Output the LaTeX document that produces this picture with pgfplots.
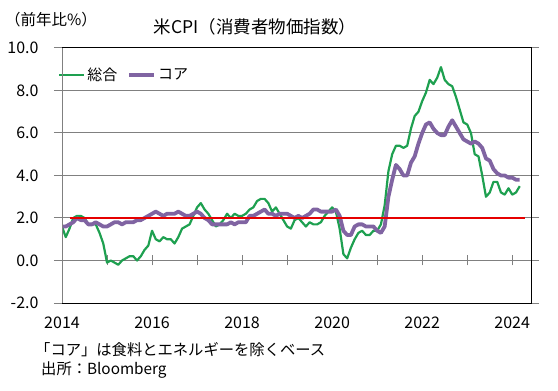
\documentclass[border=0pt]{standalone}
\usepackage{fontspec}
\setmainfont{Noto Sans CJK JP}
\usepackage{pgfplots}
\usepackage{pgfplotstable}
\pgfplotsset{compat=1.18}
\definecolor{cpigreen}{RGB}{30,160,80}
\definecolor{cpipurple}{RGB}{128,100,162}
\definecolor{cpired}{RGB}{230,0,0}
\definecolor{gridgray}{RGB}{128,128,128}

\pgfplotstableread{
i total core
0 1.6 1.6
1 1.1 1.6
2 1.5 1.7
3 2.0 1.8
4 2.1 2.0
5 2.1 1.9
6 2.0 1.9
7 1.7 1.7
8 1.7 1.7
9 1.7 1.8
10 1.3 1.7
11 0.8 1.6
12 -0.1 1.6
13 0.0 1.7
14 -0.1 1.8
15 -0.2 1.8
16 0.0 1.7
17 0.1 1.8
18 0.2 1.8
19 0.2 1.8
20 0.0 1.9
21 0.2 1.9
22 0.5 2.0
23 0.7 2.1
24 1.4 2.2
25 1.0 2.3
26 0.9 2.2
27 1.1 2.1
28 1.0 2.2
29 1.0 2.2
30 0.8 2.2
31 1.1 2.3
32 1.5 2.2
33 1.6 2.1
34 1.7 2.1
35 2.1 2.2
36 2.5 2.3
37 2.7 2.2
38 2.4 2.0
39 2.2 1.9
40 1.9 1.7
41 1.6 1.7
42 1.7 1.7
43 1.9 1.7
44 2.2 1.7
45 2.0 1.8
46 2.2 1.7
47 2.1 1.8
48 2.1 1.8
49 2.2 1.8
50 2.4 2.1
51 2.5 2.1
52 2.8 2.2
53 2.9 2.3
54 2.9 2.4
55 2.7 2.2
56 2.3 2.2
57 2.5 2.1
58 2.2 2.2
59 1.9 2.2
60 1.6 2.2
61 1.5 2.1
62 1.9 2.0
63 2.0 2.1
64 1.8 2.0
65 1.6 2.1
66 1.8 2.2
67 1.7 2.4
68 1.7 2.4
69 1.8 2.3
70 2.1 2.3
71 2.3 2.3
72 2.5 2.3
73 2.3 2.4
74 1.5 2.1
75 0.3 1.4
76 0.1 1.2
77 0.6 1.2
78 1.0 1.6
79 1.3 1.7
80 1.4 1.7
81 1.2 1.6
82 1.2 1.6
83 1.4 1.6
84 1.4 1.4
85 1.7 1.3
86 2.6 1.6
87 4.2 3.0
88 5.0 3.8
89 5.4 4.5
90 5.4 4.3
91 5.3 4.0
92 5.4 4.0
93 6.2 4.6
94 6.8 4.9
95 7.0 5.5
96 7.5 6.0
97 7.9 6.4
98 8.5 6.5
99 8.3 6.2
100 8.6 6.0
101 9.1 5.9
102 8.5 5.9
103 8.3 6.3
104 8.2 6.6
105 7.7 6.3
106 7.1 6.0
107 6.5 5.7
108 6.4 5.6
109 6.0 5.5
110 5.0 5.6
111 4.9 5.5
112 4.0 5.3
113 3.0 4.8
114 3.2 4.7
115 3.7 4.3
116 3.7 4.1
117 3.2 4.0
118 3.1 4.0
119 3.4 3.9
120 3.1 3.9
121 3.2 3.8
122 3.5 3.8
}\cpidata

\pgfplotsset{
  geom/.style={at={(62bp,88bp)}, anchor=south west, scale only axis,
    width=469bp, height=255bp, xmin=0, xmax=125, ymin=-2, ymax=10},
}

\begin{document}
\begin{tikzpicture}
\path[use as bounding box] (0,0) rectangle (558bp,391bp);
% x axis line at zero with crossing ticks
\begin{axis}[geom, axis x line*=middle, axis y line=none,
  xtick={0,12,...,120}, xticklabels={}, ytick=\empty,
  tick align=center, major tick length=10bp,
  x axis line style={gridgray, line width=1bp},
  xtick style={gridgray, line width=1bp}]
\end{axis}
% main axis
\begin{axis}[geom,
  axis line style={black, line width=1bp},
  ymajorgrids, grid style={gridgray, line width=1bp},
  ytick={-2,0,...,10},
  xtick={0,12,...,120},
  xticklabels={2014,,2016,,2018,,2020,,2022,,2024},
  xtick style={draw=none},
  ytick style={gridgray, line width=1bp},
  tick align=outside, major tick length=8bp,
  /pgf/number format/assume math mode=true,
  /pgf/number format/fixed, /pgf/number format/fixed zerofill, /pgf/number format/precision=1,
  tick label style={font=\fontsize{16bp}{18bp}\selectfont},
  yticklabel style={xshift=-12bp},
  xticklabel style={yshift=-2bp},
  legend style={at={(-0.0085,0.894)}, anchor=west, inner sep=0pt, draw=none, fill=none,
    legend columns=2, font=\fontsize{15bp}{17bp}\selectfont,
    /tikz/every even column/.append style={column sep=8bp}},
  legend image code/.code={\draw[#1] (0bp,0bp) -- (25bp,0bp);},
]
\addplot[cpigreen, line width=2.2bp, line join=round] table[x=i, y=total] {\cpidata};
\addlegendentry{総合}
\addplot[cpipurple, line width=3.8bp, line join=round] table[x=i, y=core] {\cpidata};
\addlegendentry{コア}
\addplot[cpired, line width=2bp, forget plot] coordinates {(2,2) (123.5,2)};
\end{axis}
% gray left axis line
\begin{axis}[geom, axis x line=none, axis y line*=left,
  y axis line style={gridgray, line width=1bp}, ytick=\empty, xtick=\empty]
\end{axis}
\node[font=\fontsize{15.5bp}{18bp}\selectfont] at (51bp,371bp) {（前年比\%）};
\node[font=\fontsize{17.5bp}{20bp}\selectfont] at (255bp,364bp) {米CPI（消費者物価指数）};
\node[anchor=west, inner sep=0pt, font=\fontsize{15.3bp}{17bp}\selectfont] at (35bp,41bp) {「コア」は食料とエネルギーを除くベース};
\node[anchor=west, inner sep=0pt, font=\fontsize{15.3bp}{17bp}\selectfont] at (41bp,21bp) {出所：Bloomberg};
\end{tikzpicture}
\end{document}
